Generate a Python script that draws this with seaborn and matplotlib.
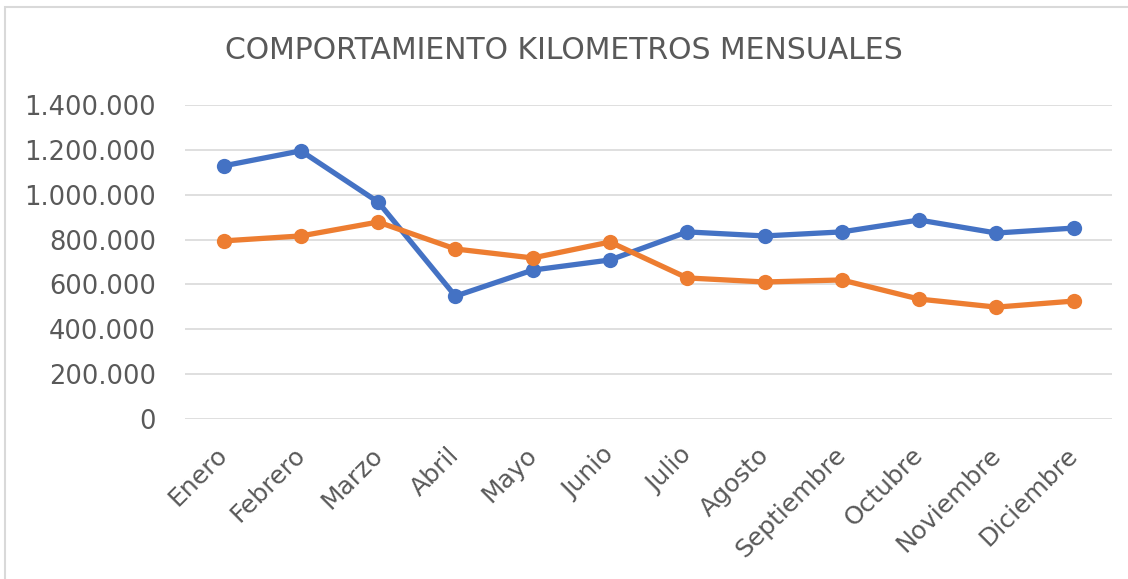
import pandas as pd
import seaborn as sns
import matplotlib.pyplot as plt
from matplotlib.patches import Rectangle
from matplotlib.ticker import FuncFormatter
from matplotlib.transforms import ScaledTranslation

# monthly km
meses = ["Enero", "Febrero", "Marzo", "Abril", "Mayo", "Junio", "Julio",
         "Agosto", "Septiembre", "Octubre", "Noviembre", "Diciembre"]
serie_azul = [1128000, 1195000, 967000, 548000, 664000, 709000, 834000,
              816000, 834000, 887000, 829000, 851000]
serie_naranja = [794000, 816000, 878000, 758000, 718000, 789000, 629000,
                 611000, 620000, 535000, 499000, 526000]

df = pd.DataFrame({
    "mes": meses * 2,
    "pos": list(range(12)) * 2,
    "km": serie_azul + serie_naranja,
    "serie": ["A"] * 12 + ["B"] * 12,
})

sns.set_style("white")
plt.rcParams['font.family'] = ['DejaVu Sans']

fig = plt.figure(figsize=(11.28, 5.79), dpi=100)
ax = fig.add_axes([0.164, 0.276, 0.822, 0.543])

sns.lineplot(data=df, x="pos", y="km", hue="serie",
             palette=["#4472C4", "#ED7D31"], marker="o", markersize=11,
             markeredgewidth=0, linewidth=3.8, legend=False, ax=ax)

ax.set_xlim(-0.5, 11.5)
ax.set_ylim(0, 1400000)
ax.set_yticks(range(0, 1400001, 200000))
ax.yaxis.set_major_formatter(FuncFormatter(lambda v, p: f"{int(v):,}".replace(",", ".")))
ax.set_xticks(range(12))
ax.set_xticklabels(meses, rotation=45, ha="right", rotation_mode="anchor")
ax.tick_params(axis="y", labelsize=18.5, colors="#595959", length=0, pad=21)
ax.tick_params(axis="x", labelsize=18, colors="#595959", length=0, pad=14)
shift = ScaledTranslation(-8 / 100, -4 / 100, fig.dpi_scale_trans)
for lbl in ax.get_xticklabels():
    lbl.set_transform(lbl.get_transform() + shift)
ax.set_xlabel("")
ax.set_ylabel("")
ax.grid(axis="y", color="#D9D9D9", linewidth=1.2)
ax.set_axisbelow(True)
sns.despine(ax=ax, left=True, bottom=True)

fig.text(0.5, 0.912, "COMPORTAMIENTO KILOMETROS MENSUALES", ha="center",
         va="center", fontsize=21.5, color="#595959")

# light chart-area border
fig.patches.append(Rectangle((0.004, -0.01), 1.0, 0.998, transform=fig.transFigure,
                             fill=False, edgecolor="#D9D9D9", linewidth=1.5))

fig.savefig("out.png", dpi=100)
